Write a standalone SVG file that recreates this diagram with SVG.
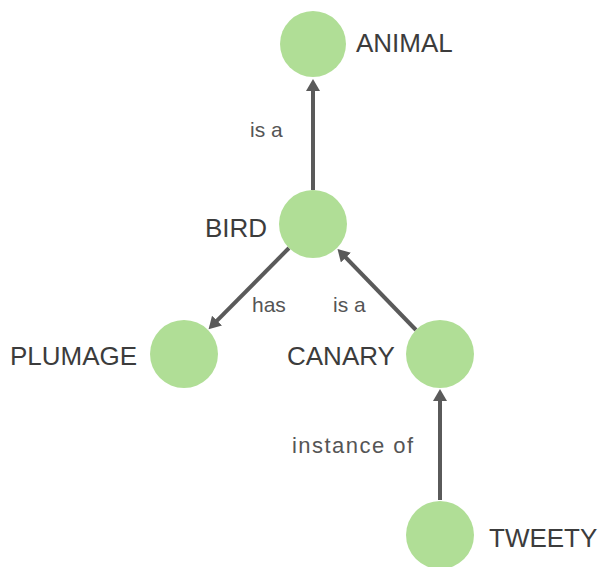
<svg xmlns="http://www.w3.org/2000/svg" width="598" height="567" viewBox="0 0 598 567">
<style>
.node{fill:#b0de96}
.nl{font-family:"Liberation Sans",Arial,sans-serif;font-size:26px;fill:#3c3c3c}
.el{font-family:"Liberation Sans",Arial,sans-serif;font-size:21px;fill:#555}
.edge{stroke:#5a5a5a;stroke-width:4;fill:none;marker-end:url(#arr)}
</style>
<defs>
<marker id="arr" markerUnits="userSpaceOnUse" markerWidth="14" markerHeight="14" refX="6" refY="7" orient="auto">
<path d="M0,0 L12,7 L0,14 Z" fill="#5a5a5a"/>
</marker>
</defs>
<rect width="598" height="567" fill="#fff"/>
<g id="connectors">
<line class="edge" x1="313" y1="190" x2="313" y2="85"/>
<line class="edge" x1="289" y1="248" x2="212.8" y2="324.9"/>
<line class="edge" x1="416" y1="330" x2="341.7" y2="253.3"/>
<line class="edge" x1="440" y1="500" x2="440" y2="395"/>
<text class="el" x="250" y="137">is a</text>
<text class="el" x="252" y="312">has</text>
<text class="el" x="333" y="312">is a</text>
<text class="el" x="292" y="453" style="font-size:22px" textLength="121">instance of</text>
</g>
<g id="animal"><circle class="node" cx="313" cy="44" r="33"/><text class="nl" x="356" y="52">ANIMAL</text></g>
<g id="bird"><circle class="node" cx="313" cy="224" r="34"/><text class="nl" x="205" y="237">BIRD</text></g>
<g id="plumage"><circle class="node" cx="184" cy="354" r="34"/><text class="nl" x="10" y="365">PLUMAGE</text></g>
<g id="canary"><circle class="node" cx="440" cy="354" r="34"/><text class="nl" x="287" y="365">CANARY</text></g>
<g id="tweety"><circle class="node" cx="440" cy="535" r="34"/><text class="nl" x="489" y="547">TWEETY</text></g>
</svg>
